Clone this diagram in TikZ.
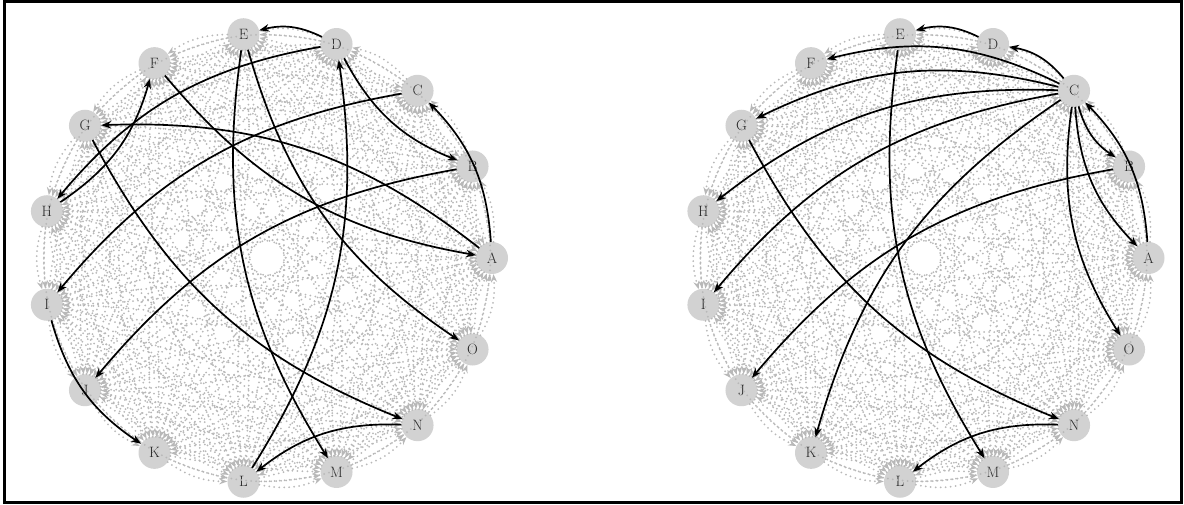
\documentclass[tikz,border=0pt]{standalone}
\usepackage{fontspec}
\usetikzlibrary{arrows.meta}
\definecolor{nodegray}{HTML}{D2D2D2}
\definecolor{edgegray}{HTML}{B8B8B8}
\definecolor{txt}{HTML}{2A2A2A}
\tikzset{
 vert/.style={circle, fill=nodegray, minimum size=32pt, inner sep=0pt, text=txt, font=\fontsize{15}{15}\selectfont},
 grayedge/.style={draw=edgegray, line width=2pt, line cap=round, dash pattern=on 0pt off 5pt, -{Stealth[length=8pt,width=6pt,fill=edgegray]}, bend right=17},
 blackedge/.style={draw=black, line width=1.7pt, -{Stealth[length=10pt,width=7.5pt]}, bend right=20},
}
\begin{document}
\begin{tikzpicture}[x=1pt,y=1pt]
\useasboundingbox (0,0) rectangle (1184,505);
\draw[line width=3pt] (4.5,2) rectangle (1181,503.5);
\foreach \l [count=\i from 0] in {A,B,C,D,E,F,G,H,I,J,K,L,M,N,O} {
  \node[vert] (L\i) at ({267+225*cos(\i*24)},{247+225*sin(\i*24)}) {\l};
  \node[vert] (R\i) at ({923.5+225*cos(\i*24)},{247+225*sin(\i*24)}) {\l};
}
\foreach \i in {0,...,14} {
  \foreach \j in {0,...,14} {
    \ifnum\i=\j\relax\else
      \draw[grayedge] (L\i) to (L\j);
      \draw[grayedge] (R\i) to (R\j);
    \fi
  }
}
\foreach \a/\b in {3/4,3/7,7/5,5/0,4/12,4/14,11/3,3/1,2/8,0/6,0/2,1/9,6/13,8/10,13/11}
  \draw[blackedge] (L\a) to (L\b);
\foreach \a/\b in {3/4,2/3,2/5,2/6,2/7,2/8,2/10,2/1,2/0,2/14,0/2,1/9,4/12,6/13,13/11}
  \draw[blackedge] (R\a) to (R\b);
\end{tikzpicture}
\end{document}
